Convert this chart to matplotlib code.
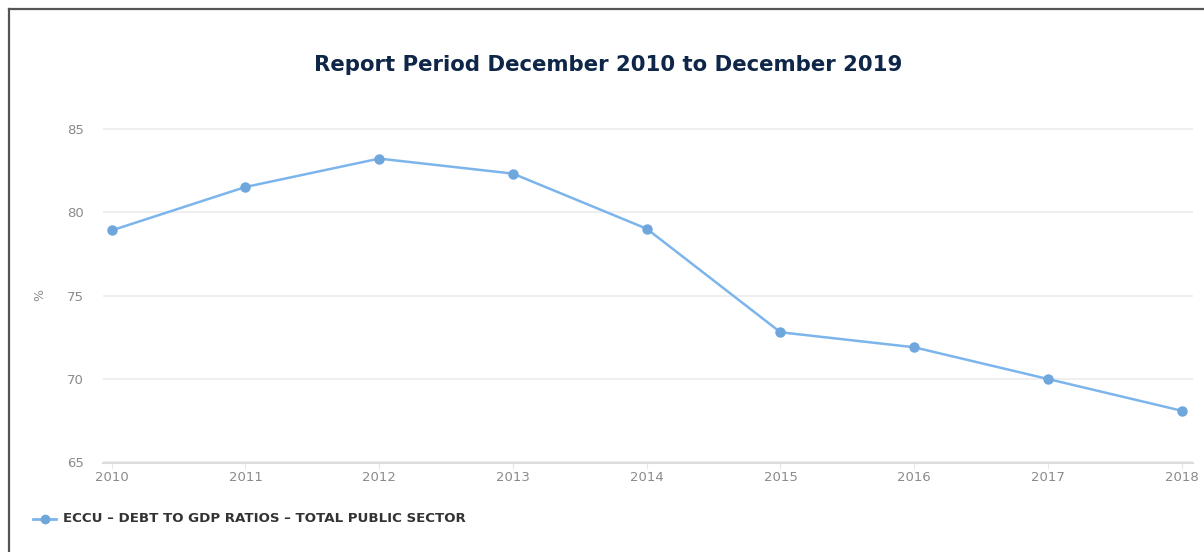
import matplotlib.pyplot as plt
from matplotlib.lines import Line2D

# debt to GDP ratio, total public sector (%)
years = [2010, 2011, 2012, 2013, 2014, 2015, 2016, 2017, 2018]
ratio = [78.9, 81.5, 83.2, 82.3, 79.0, 72.8, 71.9, 70.0, 68.1]
yticks = [65, 70, 75, 80, 85]

title = 'Report Period December 2010 to December 2019'
series_name = 'ECCU \u2013 DEBT TO GDP RATIOS \u2013 TOTAL PUBLIC SECTOR'

line_colour = '#7cb5ec'
marker_colour = '#6fa6dc'

fig = plt.figure(figsize=(12.04, 5.52), dpi=100)
fig.patch.set_facecolor('white')

# frame around the panel (only top and left edges sit inside the image)
fig.add_artist(Line2D([9 / 1204, 9 / 1204], [0, 1 - 9 / 552],
                      transform=fig.transFigure, color='#555555', lw=1.6))
fig.add_artist(Line2D([9 / 1204, 1], [1 - 9 / 552, 1 - 9 / 552],
                      transform=fig.transFigure, color='#555555', lw=1.6))

ax = fig.add_axes([103 / 1204, 1 - 462.5 / 552, (1193 - 103) / 1204, (462.5 - 125.2) / 552])

ax.plot(years, ratio, color=line_colour, lw=1.8, marker='o', markersize=6.5,
        markerfacecolor=marker_colour, markeredgecolor=marker_colour, zorder=3)

ax.set_xlim(2010 - 8.7 / 133.75, 2018 + 11.3 / 133.75)
ax.set_ylim(65, 85.2)
ax.set_yticks(yticks)
ax.set_xticks(years)

ax.grid(axis='y', color='#ececec', lw=1.2)
ax.set_axisbelow(True)
for side in ['top', 'right', 'left']:
    ax.spines[side].set_visible(False)
ax.spines['bottom'].set_color('#dcdcdc')
ax.spines['bottom'].set_linewidth(1.5)

ax.tick_params(axis='y', length=0, pad=14, labelsize=9.5, labelcolor='#8a8a8a')
ax.tick_params(axis='x', length=4, color='#e8e8e8', pad=2, labelsize=9.5, labelcolor='#8a8a8a')

fig.text(40 / 1204, 1 - 295 / 552, '%', rotation=90, ha='center', va='center',
         fontsize=9, color='#8a8a8a')

fig.text(608 / 1204, 1 - 65 / 552, title, ha='center', va='center',
         fontsize=15.3, fontweight='bold', color='#0e2647')

# legend entry drawn by hand under the axis
fig.add_artist(Line2D([33 / 1204, 56 / 1204], [1 - 519 / 552, 1 - 519 / 552],
                      transform=fig.transFigure, color=line_colour, lw=2))
fig.add_artist(Line2D([44.5 / 1204], [1 - 519 / 552], transform=fig.transFigure,
                      marker='o', markersize=6, color=marker_colour))
fig.text(63 / 1204, 1 - 519 / 552, series_name, ha='left', va='center',
         fontsize=9.6, fontweight='bold', color='#333333')

fig.savefig('out.png', dpi=100)
